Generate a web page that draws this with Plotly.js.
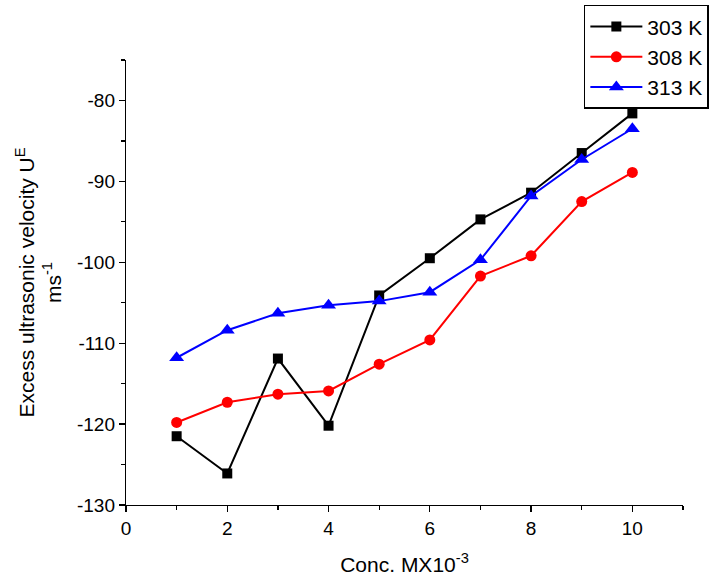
<!DOCTYPE html>
<html>
<head>
<meta charset="utf-8">
<script src="https://cdn.plot.ly/plotly-3.0.1.min.js"></script>
<style>
  html, body { margin: 0; padding: 0; background: #fff; }
  #chart { width: 711px; height: 580px; }
</style>
</head>
<body>
<div id="chart"></div>
<script>
// Concentration (M x 10^-3)
const conc = [1, 2, 3, 4, 5, 6, 7, 8, 9, 10];

// Excess ultrasonic velocity U^E (m s^-1) at three temperatures
const u303 = [-121.5, -126.1, -111.9, -120.2, -104.1, -99.5, -94.7, -91.4, -86.5, -81.6];
const u308 = [-119.8, -117.3, -116.3, -115.9, -112.6, -109.6, -101.7, -99.2, -92.5, -88.9];
const u313 = [-111.8, -108.4, -106.3, -105.3, -104.8, -103.7, -99.7, -91.8, -87.3, -83.5];

const seriesNames = ['303 K', '308 K', '313 K'];

// Axis ticks (labels written with a plain hyphen-minus)
const xTickVals = [0, 2, 4, 6, 8, 10];
const xTickText = ['0', '2', '4', '6', '8', '10'];
const yTickVals = [-130, -120, -110, -100, -90, -80];
const yTickText = ['-130', '-120', '-110', '-100', '-90', '-80'];

const font = 'Arial, "Liberation Sans", sans-serif';

function series(y, name, color, symbol, size) {
  return {
    x: conc, y: y, name: name, type: 'scatter', mode: 'lines+markers',
    line: { color: color, width: 2 },
    marker: { color: color, symbol: symbol, size: size }
  };
}

const data = [
  series(u303, seriesNames[0], '#000000', 'square', 10),
  series(u308, seriesNames[1], '#ff0000', 'circle', 11),
  series(u313, seriesNames[2], '#0000ff', 'triangle-up', 13)
];

const layout = {
  width: 711, height: 580,
  margin: { l: 126, r: 28, t: 60, b: 75, autoexpand: false },
  paper_bgcolor: '#fff', plot_bgcolor: '#fff',
  font: { family: font, color: '#000', size: 19 },
  showlegend: true,
  legend: {
    x: 0.822, y: 1.124, xanchor: 'left', yanchor: 'top',
    bordercolor: '#000', borderwidth: 1.5, bgcolor: '#fff',
    font: { family: font, size: 21, color: '#000' },
    itemwidth: 52, tracegroupgap: 0
  },
  xaxis: {
    range: [0, 11], tickvals: xTickVals, ticktext: xTickText,
    showline: true, linecolor: '#000', linewidth: 1.2,
    ticks: 'outside', ticklen: 6, tickwidth: 1.2, tickcolor: '#000',
    minor: { dtick: 1, ticklen: 4, tickwidth: 1.2, tickcolor: '#000', ticks: 'outside' },
    showgrid: false, zeroline: false,
    tickfont: { family: font, size: 19 },
    title: { text: 'Conc. MX10<sup>-3</sup>', font: { family: font, size: 21 }, standoff: 19 }
  },
  yaxis: {
    range: [-130, -75], tickvals: yTickVals, ticktext: yTickText,
    showline: true, linecolor: '#000', linewidth: 1.2,
    ticks: 'outside', ticklen: 6, tickwidth: 1.2, tickcolor: '#000',
    minor: { dtick: 5, ticklen: 4, tickwidth: 1.2, tickcolor: '#000', ticks: 'outside' },
    showgrid: false, zeroline: false,
    tickfont: { family: font, size: 19 },
    title: { text: 'Excess ultrasonic velocity U<sup>E</sup><br>ms<sup>-1</sup>', font: { family: font, size: 21 }, standoff: 9 }
  }
};

Plotly.newPlot('chart', data, layout, { displayModeBar: false, staticPlot: true });
</script>
</body>
</html>
